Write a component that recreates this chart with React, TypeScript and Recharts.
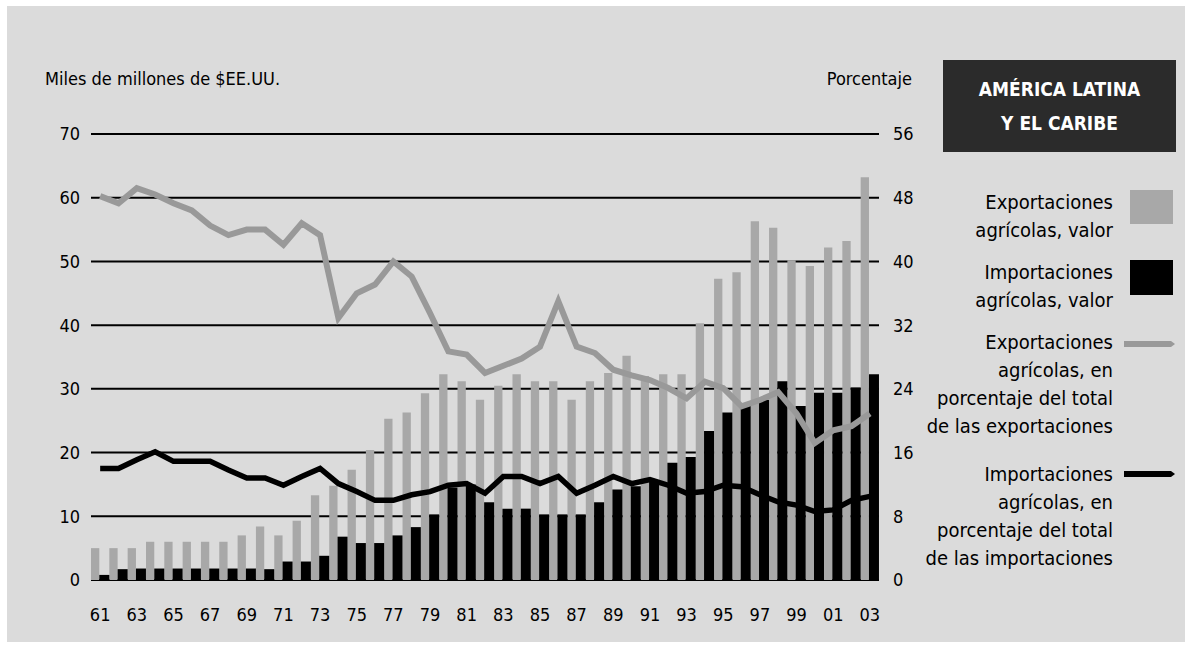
import {
  Bar,
  CartesianGrid,
  ComposedChart,
  Line,
  XAxis,
  YAxis,
} from "recharts";

const FONT =
  '"Liberation Sans Narrow", "DejaVu Sans Condensed", "Roboto Condensed", sans-serif';

const years = [
  "61", "62", "63", "64", "65", "66", "67", "68", "69", "70",
  "71", "72", "73", "74", "75", "76", "77", "78", "79", "80",
  "81", "82", "83", "84", "85", "86", "87", "88", "89", "90",
  "91", "92", "93", "94", "95", "96", "97", "98", "99", "00",
  "01", "02", "03",
];

// miles de millones de $EE.UU.
const exportValue = [
  5, 5, 5, 6, 6, 6, 6, 6, 7, 8.4,
  7, 9.3, 13.3, 14.8, 17.3, 20.4, 25.3, 26.3, 29.3, 32.3,
  31.2, 28.3, 30.5, 32.3, 31.2, 31.2, 28.3, 31.2, 32.5, 35.2,
  32, 32.3, 32.3, 40.3, 47.3, 48.3, 56.3, 55.3, 50.2, 49.3,
  52.2, 53.2, 63.2,
];

const importValue = [
  0.8, 1.7, 1.8, 1.8, 1.8, 1.8, 1.8, 1.8, 1.8, 1.7,
  2.9, 2.9, 3.8, 6.8, 5.8, 5.8, 7, 8.3, 10.3, 14.5,
  15, 12.2, 11.2, 11.2, 10.3, 10.3, 10.3, 12.2, 14.2, 14.7,
  15.5, 18.4, 19.3, 23.4, 26.3, 27.3, 28.3, 31.2, 27.3, 29.4,
  29.4, 30.2, 32.3,
];

// porcentaje
const exportShare = [
  48.2, 47.3, 49.2, 48.4, 47.3, 46.4, 44.5, 43.3, 44.0, 44.0,
  42.1, 44.8, 43.3, 32.9, 36.0, 37.1, 40.0, 38.1, 33.5, 28.7,
  28.3, 26.0, 26.9, 27.8, 29.3, 35.0, 29.3, 28.5, 26.4, 25.7,
  25.1, 24.1, 22.8, 24.9, 24.1, 21.8, 22.6, 23.6, 20.9, 17.2,
  18.8, 19.3, 20.9,
];

const importShare = [
  14.0, 14.0, 15.1, 16.1, 14.9, 14.9, 14.9, 13.8, 12.8, 12.8,
  11.9, 13.0, 14.0, 12.1, 11.1, 10.0, 10.0, 10.7, 11.1, 11.9,
  12.1, 10.9, 13.0, 13.0, 12.1, 13.0, 10.9, 11.9, 13.0, 12.1,
  12.6, 11.9, 10.9, 11.1, 11.9, 11.7, 10.7, 9.8, 9.4, 8.6,
  8.8, 10.0, 10.5,
];

const leftTicks = [0, 10, 20, 30, 40, 50, 60, 70];
const rightTicks = [0, 8, 16, 24, 32, 40, 48, 56];

const data = years.map((year, i) => ({
  year,
  exportValue: exportValue[i],
  importValue: importValue[i],
  exportShare: exportShare[i],
  importShare: importShare[i],
}));

const GREY_BAR = "#a8a8a8";
const GREY_LINE = "#999999";

const tickStyle = { fill: "#000", fontSize: 18, fontFamily: FONT };

function LegendText({
  lines,
  top,
}: {
  lines: string[];
  top: number;
}) {
  return (
    <div
      style={{
        position: "absolute",
        right: 1187 - 1113,
        top,
        textAlign: "right",
        fontFamily: FONT,
        fontSize: 20,
        lineHeight: "28px",
        color: "#000",
        whiteSpace: "nowrap",
      }}
    >
      {lines.map((l) => (
        <div key={l}>{l}</div>
      ))}
    </div>
  );
}

function LineSwatch({ top, color }: { top: number; color: string }) {
  return (
    <svg
      width={52}
      height={10}
      style={{ position: "absolute", left: 1124, top: top - 5 }}
    >
      <polygon points="0,2 47,2 51,5 47,8 0,8" fill={color} />
    </svg>
  );
}

export default function App() {
  return (
    <div
      style={{
        position: "absolute",
        left: 0,
        top: 0,
        width: 1187,
        height: 652,
        background: "#fff",
        overflow: "hidden",
      }}
    >
      <div
        style={{
          position: "absolute",
          left: 7,
          top: 6,
          width: 1178,
          height: 636,
          background: "#dbdbdb",
        }}
      />
      <div
        style={{
          position: "absolute",
          left: 45,
          top: 68,
          fontFamily: FONT,
          fontSize: 18,
          color: "#000",
          whiteSpace: "nowrap",
        }}
      >
        Miles de millones de $EE.UU.
      </div>
      <div
        style={{
          position: "absolute",
          right: 1187 - 912,
          top: 68,
          fontFamily: FONT,
          fontSize: 18,
          color: "#000",
          whiteSpace: "nowrap",
        }}
      >
        Porcentaje
      </div>
      <div
        style={{
          position: "absolute",
          left: 943,
          top: 60,
          width: 233,
          height: 92,
          background: "#2b2b2b",
          color: "#fff",
          fontFamily: FONT,
          fontSize: 19,
          fontWeight: "bold",
          lineHeight: "34px",
          textAlign: "center",
          display: "flex",
          flexDirection: "column",
          justifyContent: "center",
        }}
      >
        <div>AMÉRICA LATINA</div>
        <div>Y EL CARIBE</div>
      </div>

      <LegendText lines={["Exportaciones", "agrícolas, valor"]} top={188} />
      <div
        style={{
          position: "absolute",
          left: 1130,
          top: 190,
          width: 43,
          height: 34,
          background: GREY_BAR,
        }}
      />
      <LegendText lines={["Importaciones", "agrícolas, valor"]} top={258} />
      <div
        style={{
          position: "absolute",
          left: 1130,
          top: 260,
          width: 43,
          height: 35,
          background: "#000",
        }}
      />
      <LegendText
        lines={[
          "Exportaciones",
          "agrícolas, en",
          "porcentaje del total",
          "de las exportaciones",
        ]}
        top={328}
      />
      <LineSwatch top={344} color={GREY_LINE} />
      <LegendText
        lines={[
          "Importaciones",
          "agrícolas, en",
          "porcentaje del total",
          "de las importaciones",
        ]}
        top={460}
      />
      <LineSwatch top={474} color="#000" />

      <div style={{ position: "absolute", left: 0, top: 0 }}>
        <ComposedChart
          width={1187}
          height={652}
          data={data}
          margin={{ top: 134, right: 268, bottom: 32, left: 51 }}
          barCategoryGap={0}
          barGap={0}
        >
          <CartesianGrid
            yAxisId="left"
            vertical={false}
            stroke="#000"
            strokeWidth={2}
          />
          <XAxis
            dataKey="year"
            interval={1}
            axisLine={false}
            tickLine={false}
            tickMargin={22}
            height={40}
            tick={tickStyle}
          />
          <YAxis
            yAxisId="left"
            domain={[0, 70]}
            ticks={leftTicks}
            axisLine={false}
            tickLine={false}
            tickMargin={5}
            width={40}
            tick={tickStyle}
          />
          <YAxis
            yAxisId="right"
            orientation="right"
            domain={[0, 56]}
            ticks={rightTicks}
            axisLine={false}
            tickLine={false}
            tickMargin={8}
            width={40}
            tick={{ ...tickStyle, textAnchor: "start" }}
          />
          <Bar
            yAxisId="left"
            dataKey="exportValue"
            fill={GREY_BAR}
            barSize={8.3}
            isAnimationActive={false}
          />
          <Bar
            yAxisId="left"
            dataKey="importValue"
            fill="#000"
            barSize={10}
            isAnimationActive={false}
          />
          <Line
            yAxisId="right"
            dataKey="exportShare"
            stroke={GREY_LINE}
            strokeWidth={6}
            dot={false}
            activeDot={false}
            isAnimationActive={false}
          />
          <Line
            yAxisId="right"
            dataKey="importShare"
            stroke="#000"
            strokeWidth={5.5}
            dot={false}
            activeDot={false}
            isAnimationActive={false}
          />
        </ComposedChart>
      </div>
    </div>
  );
}
